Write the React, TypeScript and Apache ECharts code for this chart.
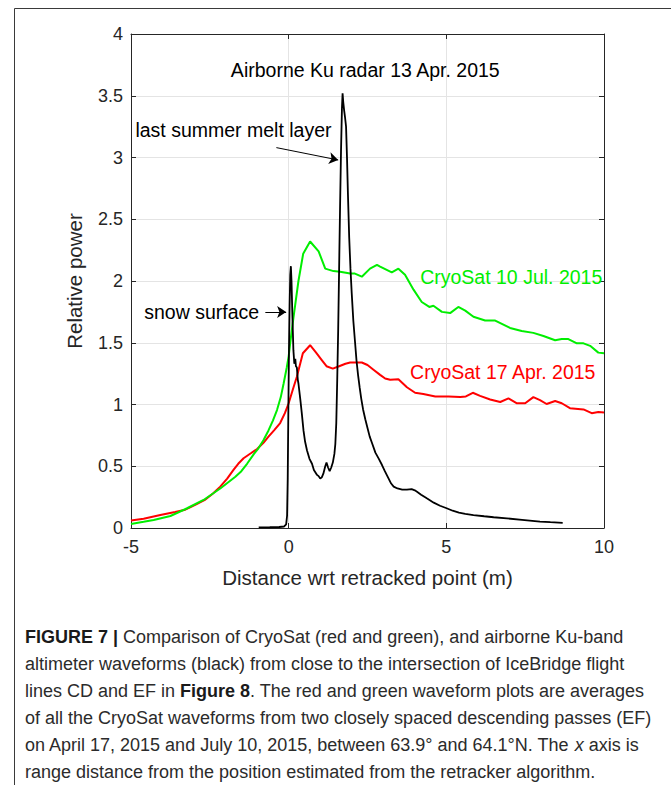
import React, { useEffect, useRef } from "react";
import * as echarts from "echarts";

// ---------- data ----------
const xTickValues = [-5, 0, 5, 10];
const yTickValues = [0, 0.5, 1, 1.5, 2, 2.5, 3, 3.5, 4];

const cryosat17Apr: [number, number][] = [
  [-5, 0.06], [-4.6, 0.075], [-4.07, 0.105], [-3.6, 0.13], [-3.28, 0.148], [-2.95, 0.19],
  [-2.64, 0.23], [-2.4, 0.28], [-2.17, 0.335], [-1.95, 0.4], [-1.75, 0.47], [-1.6, 0.52],
  [-1.43, 0.565], [-1.2, 0.605], [-1.0, 0.64], [-0.8, 0.69], [-0.64, 0.74], [-0.45, 0.795],
  [-0.27, 0.85], [-0.12, 0.93], [0.0, 1.01], [0.13, 1.12], [0.26, 1.225], [0.45, 1.415],
  [0.68, 1.48], [0.87, 1.42], [1.05, 1.36], [1.2, 1.31], [1.4, 1.29], [1.6, 1.31], [1.8, 1.33],
  [1.95, 1.34], [2.32, 1.34], [2.5, 1.32], [2.7, 1.28], [2.9, 1.24], [3.06, 1.21], [3.22, 1.2],
  [3.48, 1.205], [3.75, 1.14], [4.01, 1.095], [4.27, 1.085], [4.65, 1.065], [5.07, 1.065],
  [5.44, 1.06], [5.62, 1.065], [5.84, 1.095], [6.07, 1.07], [6.39, 1.04], [6.71, 1.02],
  [6.97, 1.05], [7.24, 1.01], [7.5, 1.01], [7.76, 1.06], [7.97, 1.036], [8.18, 1.004],
  [8.45, 1.028], [8.66, 1.01], [8.92, 0.97], [9.35, 0.96], [9.61, 0.93], [9.82, 0.94], [10, 0.935],
];

const cryosat10Jul: [number, number][] = [
  [-5, 0.032], [-4.6, 0.05], [-4.28, 0.065], [-3.75, 0.097], [-3.22, 0.16], [-2.7, 0.227],
  [-2.17, 0.32], [-1.69, 0.415], [-1.5, 0.46], [-1.32, 0.52], [-1.1, 0.6], [-0.96, 0.645],
  [-0.8, 0.71], [-0.64, 0.79], [-0.5, 0.87], [-0.37, 0.955], [-0.25, 1.06], [-0.16, 1.17],
  [-0.06, 1.3], [0.0, 1.39], [0.05, 1.5], [0.15, 1.7], [0.31, 2.0], [0.46, 2.22], [0.68, 2.32],
  [0.95, 2.24], [1.16, 2.1], [1.42, 2.08], [1.63, 2.075], [1.95, 2.06], [2.1, 2.06], [2.32, 2.035],
  [2.58, 2.1], [2.8, 2.13], [2.9, 2.116], [3.27, 2.07], [3.48, 2.1], [3.69, 2.05], [3.96, 1.93],
  [4.22, 1.83], [4.46, 1.79], [4.59, 1.8], [4.86, 1.75], [5.12, 1.74], [5.38, 1.79], [5.6, 1.76],
  [5.86, 1.71], [6.23, 1.68], [6.55, 1.68], [7.02, 1.62], [7.39, 1.595], [7.76, 1.58],
  [8.08, 1.555], [8.45, 1.52], [8.66, 1.53], [8.87, 1.53], [9.14, 1.495], [9.35, 1.495],
  [9.56, 1.475], [9.82, 1.42], [10, 1.415],
];

const airborne13Apr: [number, number][] = [
  [-0.95, 0.005], [-0.6, 0.006], [-0.3, 0.008], [-0.15, 0.012], [-0.08, 0.03], [-0.05, 0.1],
  [-0.03, 0.4], [-0.01, 0.95], [0.01, 1.45], [0.03, 1.8], [0.05, 2.05], [0.07, 2.12], [0.09, 2.0],
  [0.12, 1.7], [0.15, 1.44], [0.18, 1.33], [0.21, 1.37], [0.23, 1.31], [0.26, 1.3], [0.29, 1.2],
  [0.31, 1.17], [0.37, 1.04], [0.42, 0.92], [0.47, 0.79], [0.52, 0.7], [0.58, 0.63], [0.66, 0.56],
  [0.74, 0.52], [0.8, 0.47], [0.85, 0.45], [0.9, 0.43], [0.95, 0.42], [1.0, 0.4], [1.05, 0.41],
  [1.1, 0.44], [1.16, 0.5], [1.2, 0.53], [1.25, 0.49], [1.3, 0.46], [1.35, 0.49], [1.4, 0.53],
  [1.45, 0.6], [1.48, 0.68], [1.51, 0.85], [1.54, 1.2], [1.57, 1.6], [1.6, 2.1], [1.63, 2.6],
  [1.66, 3.05], [1.69, 3.4], [1.71, 3.52], [1.73, 3.45], [1.76, 3.38], [1.79, 3.32], [1.82, 3.25],
  [1.85, 3.0], [1.88, 2.7], [1.92, 2.35], [1.96, 2.1], [2.0, 1.9], [2.05, 1.68], [2.1, 1.52],
  [2.15, 1.36], [2.2, 1.24], [2.25, 1.14], [2.3, 1.05], [2.36, 0.96], [2.43, 0.88], [2.5, 0.81],
  [2.57, 0.74], [2.64, 0.69], [2.75, 0.61], [2.86, 0.56], [2.96, 0.51], [3.05, 0.46], [3.15, 0.41],
  [3.25, 0.36], [3.33, 0.335], [3.45, 0.32], [3.6, 0.31], [3.75, 0.31], [3.9, 0.315], [4.0, 0.305],
  [4.07, 0.294], [4.2, 0.27], [4.38, 0.24], [4.6, 0.205], [4.8, 0.18], [5.01, 0.16], [5.2, 0.14],
  [5.4, 0.125], [5.6, 0.115], [5.86, 0.105], [6.2, 0.095], [6.5, 0.087], [6.92, 0.078],
  [7.4, 0.066], [7.97, 0.052], [8.3, 0.047], [8.69, 0.042],
];

// annotation anchors in data coordinates
const meltArrow: [number, number][] = [[-0.39, 3.08], [1.57, 2.98]];
const snowArrow: [number, number][] = [[-0.74, 1.75], [-0.08, 1.75]];

const annotations = [
  { text: "Airborne Ku radar 13 Apr. 2015", at: [2.43, 3.71], color: "#000", align: "center" },
  { text: "last summer melt layer", at: [-4.86, 3.22], color: "#000", align: "left" },
  { text: "snow surface", at: [-4.58, 1.75], color: "#000", align: "left" },
  { text: "CryoSat 10 Jul. 2015", at: [4.17, 2.03], color: "#00ee00", align: "left" },
  { text: "CryoSat 17 Apr. 2015", at: [3.85, 1.26], color: "#ff0000", align: "left" },
];

const captionLines = [
  "{b|FIGURE 7 |} Comparison of CryoSat (red and green), and airborne Ku-band",
  "altimeter waveforms (black) from close to the intersection of IceBridge flight",
  "lines CD and EF in {b|Figure 8}. The red and green waveform plots are averages",
  "of all the CryoSat waveforms from two closely spaced descending passes (EF)",
  "on April 17, 2015 and July 10, 2015, between 63.9° and 64.1°N. The {i|x} axis is",
  "range distance from the position estimated from the retracker algorithm.",
];

const FONT = '"Liberation Sans", Arial, Helvetica, sans-serif';
const AXIS = "#262626";
const GRID = "#e4e4e4";

export default function App() {
  const ref = useRef<HTMLDivElement>(null);

  useEffect(() => {
    const chart = echarts.init(ref.current!, null, { renderer: "svg" });

    const baseAxis = {
      type: "value",
      axisLine: { show: true, onZero: false, lineStyle: { color: AXIS, width: 1 } },
      axisTick: { show: true, inside: true, length: 5, lineStyle: { color: AXIS, width: 1 } },
    };

    const arrowLine = (pts: [number, number][]) => ({
      type: "line",
      data: [],
      silent: true,
      markLine: {
        silent: true,
        symbol: ["none", "arrow"],
        symbolSize: 9,
        label: { show: false },
        lineStyle: { color: "#000", width: 1, type: "solid" },
        emphasis: { disabled: true },
        data: [[{ coord: pts[0] }, { coord: pts[1] }]],
      },
    });

    chart.setOption({
      animation: false,
      backgroundColor: "#ffffff",
      grid: { left: 131, right: 67, top: 34, bottom: 257, containLabel: false },
      xAxis: [
        {
          ...baseAxis,
          position: "bottom",
          min: -5,
          max: 10,
          interval: 5,
          axisLabel: {
            color: AXIS,
            fontFamily: FONT,
            fontSize: 18,
            margin: 10,
            customValues: xTickValues,
          },
          splitLine: { show: true, lineStyle: { color: GRID, width: 1 } },
          name: "Distance wrt retracked point (m)",
          nameLocation: "middle",
          nameGap: 39,
          nameTextStyle: { color: AXIS, fontFamily: FONT, fontSize: 20.5 },
        },
        {
          ...baseAxis,
          position: "top",
          min: -5,
          max: 10,
          interval: 5,
          axisLabel: { show: false },
          splitLine: { show: false },
        },
      ],
      yAxis: [
        {
          ...baseAxis,
          position: "left",
          min: 0,
          max: 4,
          interval: 0.5,
          axisLabel: { color: AXIS, fontFamily: FONT, fontSize: 18, margin: 8, customValues: yTickValues },
          splitLine: { show: true, lineStyle: { color: GRID, width: 1 } },
          name: "Relative power",
          nameLocation: "middle",
          nameGap: 46,
          nameTextStyle: { color: AXIS, fontFamily: FONT, fontSize: 20.5 },
        },
        {
          ...baseAxis,
          position: "right",
          min: 0,
          max: 4,
          interval: 0.5,
          axisLabel: { show: false },
          splitLine: { show: false },
        },
      ],
      series: [
        {
          name: "CryoSat 17 Apr. 2015",
          type: "line",
          data: cryosat17Apr,
          showSymbol: false,
          lineStyle: { color: "#ff0000", width: 2 },
          silent: true,
        },
        {
          name: "CryoSat 10 Jul. 2015",
          type: "line",
          data: cryosat10Jul,
          showSymbol: false,
          lineStyle: { color: "#00ee00", width: 2 },
          silent: true,
        },
        {
          name: "Airborne Ku radar 13 Apr. 2015",
          type: "line",
          data: airborne13Apr,
          showSymbol: false,
          lineStyle: { color: "#000000", width: 1.8 },
          silent: true,
        },
        arrowLine(meltArrow),
        arrowLine(snowArrow),
      ],
    });

    const toPx = (p: number[]) => chart.convertToPixel({ seriesIndex: 0 }, p) as number[];

    const graphics: any[] = [
      {
        type: "rect",
        silent: true,
        shape: { x: 14.5, y: 8.5, width: 700, height: 800 },
        style: { fill: "none", stroke: "#3a3a3a", lineWidth: 1 },
        z: 0,
      },
    ];
    annotations.forEach((a) => {
      const [x, y] = toPx(a.at);
      graphics.push({
        type: "text",
        x,
        y,
        silent: true,
        style: {
          text: a.text,
          fill: a.color,
          font: `19.5px ${FONT}`,
          align: a.align,
          verticalAlign: "middle",
        },
        z: 10,
      });
    });
    captionLines.forEach((line, i) => {
      graphics.push({
        type: "text",
        x: 25,
        y: 637 + i * 27,
        silent: true,
        style: {
          text: line,
          fill: "#2b2b2b",
          fontFamily: FONT,
          fontSize: 18,
          verticalAlign: "middle",
          align: "left",
          rich: {
            b: { fontWeight: "bold", fontFamily: FONT, fontSize: 18, fill: "#1a1a1a" },
            i: { fontStyle: "italic", fontFamily: FONT, fontSize: 18, fill: "#2b2b2b" },
          },
        },
        z: 10,
      });
    });

    chart.setOption({ graphic: graphics });

    return () => chart.dispose();
  }, []);

  return (
    <div
      ref={ref}
      style={{ position: "fixed", left: 0, top: 0, width: 671, height: 785, background: "#fff" }}
    />
  );
}
